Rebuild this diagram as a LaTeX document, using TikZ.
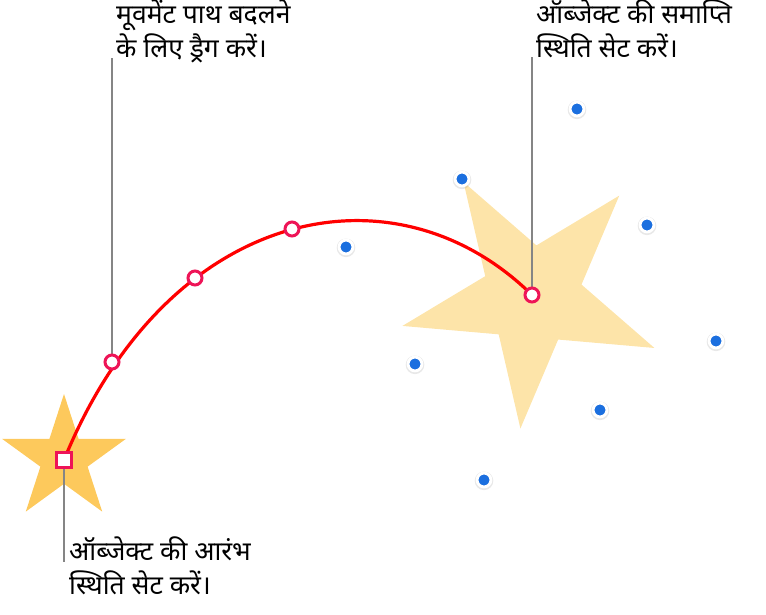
\documentclass[tikz,border=0pt]{standalone}
\usepackage{fontspec}
\newfontfamily\deva[Script=Devanagari]{Noto Sans}
\usetikzlibrary{shapes.geometric,shadows}
\definecolor{smallstar}{HTML}{FDC95C}
\definecolor{bigstar}{HTML}{FDE4A9}
\definecolor{pathred}{HTML}{FF0000}
\definecolor{handlered}{HTML}{EE1457}
\definecolor{dotblue}{HTML}{1B6FDF}
\definecolor{calloutgray}{HTML}{858585}
\pgfdeclarelayer{bg}
\pgfsetlayers{bg,main}
\tikzset{
  handle/.style={circle,fill=white,draw=handlered,line width=3pt,minimum size=14pt,inner sep=0pt},
  startsq/.style={rectangle,fill=white,draw=handlered,line width=3.2pt,minimum size=14.5pt,inner sep=0pt},
  bluedot/.style={circle,fill=dotblue,draw=white,line width=2.8pt,minimum size=13.8pt,inner sep=0pt,
     drop shadow={opacity=0.18,shadow xshift=0pt,shadow yshift=-0.6pt,shadow scale=1.35}},
  callout/.style={draw=calloutgray,line width=2.8pt},
  redpath/.style={draw=pathred,line width=3.2pt},
  label/.style={font=\deva\fontsize{26.5}{33.5}\selectfont,align=left,inner sep=0pt,anchor=north west}
}
\begin{document}
\begin{tikzpicture}[x=1pt,y=-1pt]
\useasboundingbox (0,0) rectangle (766,614);
% texts
\node[label] (t1) at (116,0) {मूवमेंट पाथ बदलने\\के लिए ड्रैग करें।};
\node[label] (t2) at (536,0) {ऑब्जेक्ट की समाप्ति\\स्थिति सेट करें।};
\node[label] (t3) at (69,537) {ऑब्जेक्ट की आरंभ\\स्थिति सेट करें।};
% handles
\node[startsq] (s) at (64,460) {};
\node[handle] (h1) at (112,362) {};
\node[handle] (h2) at (195,278) {};
\node[handle] (h3) at (292,229) {};
\node[handle] (h4) at (532,295) {};
% blue selection dots
\node[bluedot] (d1) at (462,179) {};
\node[bluedot] (d2) at (577,109) {};
\node[bluedot] (d3) at (647,225) {};
\node[bluedot] (d4) at (716,341) {};
\node[bluedot] (d5) at (600,410) {};
\node[bluedot] (d6) at (484,480) {};
\node[bluedot] (d7) at (415,364) {};
\node[bluedot] (d8) at (346,247) {};
\coordinate (c1) at (112,58);
\coordinate (c2) at (532,57);
\coordinate (c3) at (64,562);
\begin{pgfonlayer}{bg}
  % big star (end position)
  \fill[bigstar] plot[samples at={0,...,9}]
    ({532+(91.9+41.1*cos(180*\x))*cos(121+36*\x)},{296-(91.9+41.1*cos(180*\x))*sin(121+36*\x)}) -- cycle;
  % small star (start position)
  \fill[smallstar] plot[samples at={0,...,9}]
    ({64+(44.9+20.1*cos(180*\x))*cos(90+36*\x)},{459-(44.9+20.1*cos(180*\x))*sin(90+36*\x)}) -- cycle;
  % motion path
  \draw[redpath] (s.center) .. controls (168,205) and (395,160) .. (h4.center);
  % callouts
  \draw[callout] (c1) -- (h1);
  \draw[callout] (c2) -- (h4);
  \draw[callout] (s) -- (c3);
\end{pgfonlayer}
\end{tikzpicture}
\end{document}
